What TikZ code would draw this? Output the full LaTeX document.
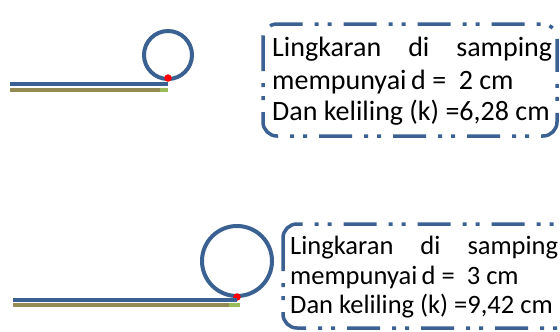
\documentclass[tikz,border=0pt]{standalone}
\usepackage{fontspec}
\setmainfont{Carlito}
\definecolor{cblue}{RGB}{59,97,146}
\definecolor{colive}{RGB}{148,138,84}
\definecolor{cgreen}{RGB}{155,187,89}
\begin{document}
\begin{tikzpicture}[x=1pt,y=-1pt,
  ring/.style={draw=cblue,line width=4pt,circle,inner sep=0pt},
  track/.style={cblue,line width=4pt},
  base/.style={colive,line width=3.5pt},
  tip/.style={cgreen,line width=3.5pt},
  dot/.style={circle,fill=red,inner sep=0pt,minimum size=7.5pt},
  frame/.style={draw=cblue,line width=3.5pt,rounded corners=14pt,dash pattern=on 33pt off 12pt on 4pt off 9pt on 4pt off 12pt},
  txt/.style={anchor=base west,inner sep=0pt,font=\fontsize{28}{33}\selectfont},
  txtb/.style={anchor=base west,inner sep=0pt,font=\fontsize{26.5}{31}\selectfont}]
\useasboundingbox (0,0) rectangle (560,332);
% top
\node[ring,minimum size=48pt] (c1) at (168,55) {};
\node[dot] (d1) at (168,78) {};
\coordinate (a1) at (10,84);
\coordinate (b1) at (168,84);
\draw[track] (a1) -- (b1);
\coordinate (o1) at (10,90);
\coordinate (g1) at (160,90);
\coordinate (e1) at (168,90);
\draw[base] (o1) -- (g1);
\draw[tip] (g1) -- (e1);
\draw[frame] (263,24) rectangle (557,136);
\node[txt] (t11) at (272,56) {\makebox[280pt][s]{Lingkaran\hfill di\hfill samping}};
\node[txt] (t12) at (272,89) {mempunyai\,d =\ \ 2 cm};
\node[txt] (t13) at (272,120) {Dan keliling (k) =6,28 cm};
% bottom
\node[ring,minimum size=70pt] (c2) at (237,261) {};
\node[dot] (d2) at (237,297) {};
\coordinate (a2) at (13,300);
\coordinate (b2) at (237,300);
\draw[track] (a2) -- (b2);
\coordinate (o2) at (13,305);
\coordinate (g2) at (229,305);
\coordinate (e2) at (240,305);
\draw[base] (o2) -- (g2);
\draw[tip] (g2) -- (e2);
\draw[frame] (283,224) rectangle (575,328);
\node[txtb] (t21) at (290,254) {\makebox[268pt][s]{Lingkaran\hfill di\hfill samping}};
\node[txtb] (t22) at (290,284) {mempunyai\,d =\ \ 3 cm};
\node[txtb] (t23) at (290,313) {Dan keliling (k) =9,42 cm};
\end{tikzpicture}
\end{document}
